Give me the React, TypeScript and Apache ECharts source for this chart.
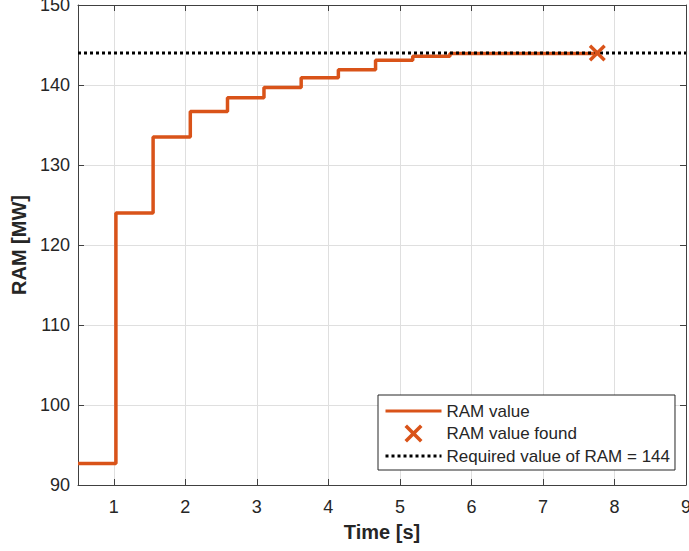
import React, { useEffect, useRef } from "react";
import * as echarts from "echarts";

const stepTimes = [0.5, 1.03, 1.55, 2.07, 2.59, 3.1, 3.62, 4.14, 4.66, 5.18, 5.7, 7.76];
const ramValues = [92.7, 124.0, 133.5, 136.7, 138.4, 139.7, 140.9, 141.9, 143.1, 143.6, 143.95, 143.95];
const foundTime = [7.76];
const foundValue = [144];
const requiredValue = 144;
const xRange = [0.5, 9];
const yRange = [90, 150];
const seriesNames = ["RAM value", "RAM value found", "Required value of RAM = 144"];

const FONT = "'Liberation Sans', Arial, Helvetica, sans-serif";
const ORANGE = "#D95319";
const AXIS = "#404040";
const TEXT = "#262626";
const X_PATH =
  "path://M0,1.4L1.4,0L5,3.6L8.6,0L10,1.4L6.4,5L10,8.6L8.6,10L5,6.4L1.4,10L0,8.6L3.6,5Z";

export default function App() {
  const ref = useRef<HTMLDivElement>(null);
  useEffect(() => {
    if (!ref.current) return;
    const chart = echarts.init(ref.current, undefined, { renderer: "svg" });
    const axisCommon = {
      type: "value" as const,
      axisLine: { show: true, lineStyle: { color: AXIS, width: 1 } },
      axisTick: { show: true, inside: true, length: 6, lineStyle: { color: AXIS } },
    };
    const hiddenSymbol = { color: "rgba(0,0,0,0)", borderWidth: 0, opacity: 0 };
    chart.setOption({
      animation: false,
      backgroundColor: "#ffffff",
      textStyle: { fontFamily: FONT },
      grid: {
        left: 78,
        top: 5,
        width: 608,
        height: 480,
        containLabel: false,
        outerBoundsMode: "none",
      },
      xAxis: [
        {
          ...axisCommon,
          min: xRange[0],
          max: xRange[1],
          splitNumber: 8,
          minInterval: 1,
          maxInterval: 1,
          position: "bottom",
          name: "Time [s]",
          nameLocation: "middle",
          nameGap: 37,
          nameTextStyle: { fontSize: 20, fontWeight: "bold", color: TEXT, fontFamily: FONT },
          axisLabel: { fontSize: 18, color: TEXT, margin: 13, showMinLabel: false, fontFamily: FONT },
          splitLine: { show: true, lineStyle: { color: "#dfdfdf", width: 1 } },
        },
        {
          ...axisCommon,
          min: xRange[0],
          max: xRange[1],
          splitNumber: 8,
          minInterval: 1,
          maxInterval: 1,
          position: "top",
          axisLabel: { show: false },
          splitLine: { show: false },
        },
      ],
      yAxis: [
        {
          ...axisCommon,
          min: yRange[0],
          max: yRange[1],
          interval: 10,
          position: "left",
          name: "RAM [MW]",
          nameLocation: "middle",
          nameGap: 41,
          nameTextStyle: { fontSize: 20, fontWeight: "bold", color: TEXT, fontFamily: FONT },
          axisLabel: { fontSize: 18, color: TEXT, margin: 8, fontFamily: FONT },
          splitLine: { show: true, lineStyle: { color: "#dfdfdf", width: 1 } },
        },
        {
          ...axisCommon,
          min: yRange[0],
          max: yRange[1],
          interval: 10,
          position: "right",
          axisLabel: { show: false },
          splitLine: { show: false },
        },
      ],
      legend: {
        orient: "vertical",
        left: 378,
        top: 395,
        padding: [7, 5, 5, 6],
        itemGap: 4.5,
        itemWidth: 56,
        itemHeight: 18,
        backgroundColor: "#ffffff",
        borderColor: TEXT,
        borderWidth: 1,
        borderRadius: 0,
        lineStyle: { width: 3 },
        textStyle: { fontSize: 17, color: TEXT, fontFamily: FONT, lineHeight: 18 },
        data: [
          { name: seriesNames[0], itemStyle: hiddenSymbol },
          { name: seriesNames[1] },
          { name: seriesNames[2], itemStyle: hiddenSymbol },
        ],
      },
      series: [
        {
          name: seriesNames[0],
          type: "line",
          step: "end",
          symbol: "none",
          data: stepTimes.map((t, i) => [t, ramValues[i]]),
          lineStyle: { color: ORANGE, width: 3.5 },
          itemStyle: { color: ORANGE },
          z: 2,
        },
        {
          name: seriesNames[2],
          type: "line",
          symbol: "none",
          data: [
            [xRange[0], requiredValue],
            [xRange[1], requiredValue],
          ],
          lineStyle: { color: "#000000", width: 3, type: [3, 3] },
          itemStyle: { color: "#000000" },
          z: 3,
        },
        {
          name: seriesNames[1],
          type: "scatter",
          symbol: X_PATH,
          symbolSize: 17,
          symbolKeepAspect: true,
          data: foundTime.map((t, i) => [t, foundValue[i]]),
          itemStyle: { color: ORANGE, opacity: 1 },
          z: 4,
        },
      ],
    });
    return () => chart.dispose();
  }, []);
  return (
    <div
      ref={ref}
      style={{ position: "fixed", left: 0, top: 0, width: 689, height: 551, background: "#fff" }}
    />
  );
}
